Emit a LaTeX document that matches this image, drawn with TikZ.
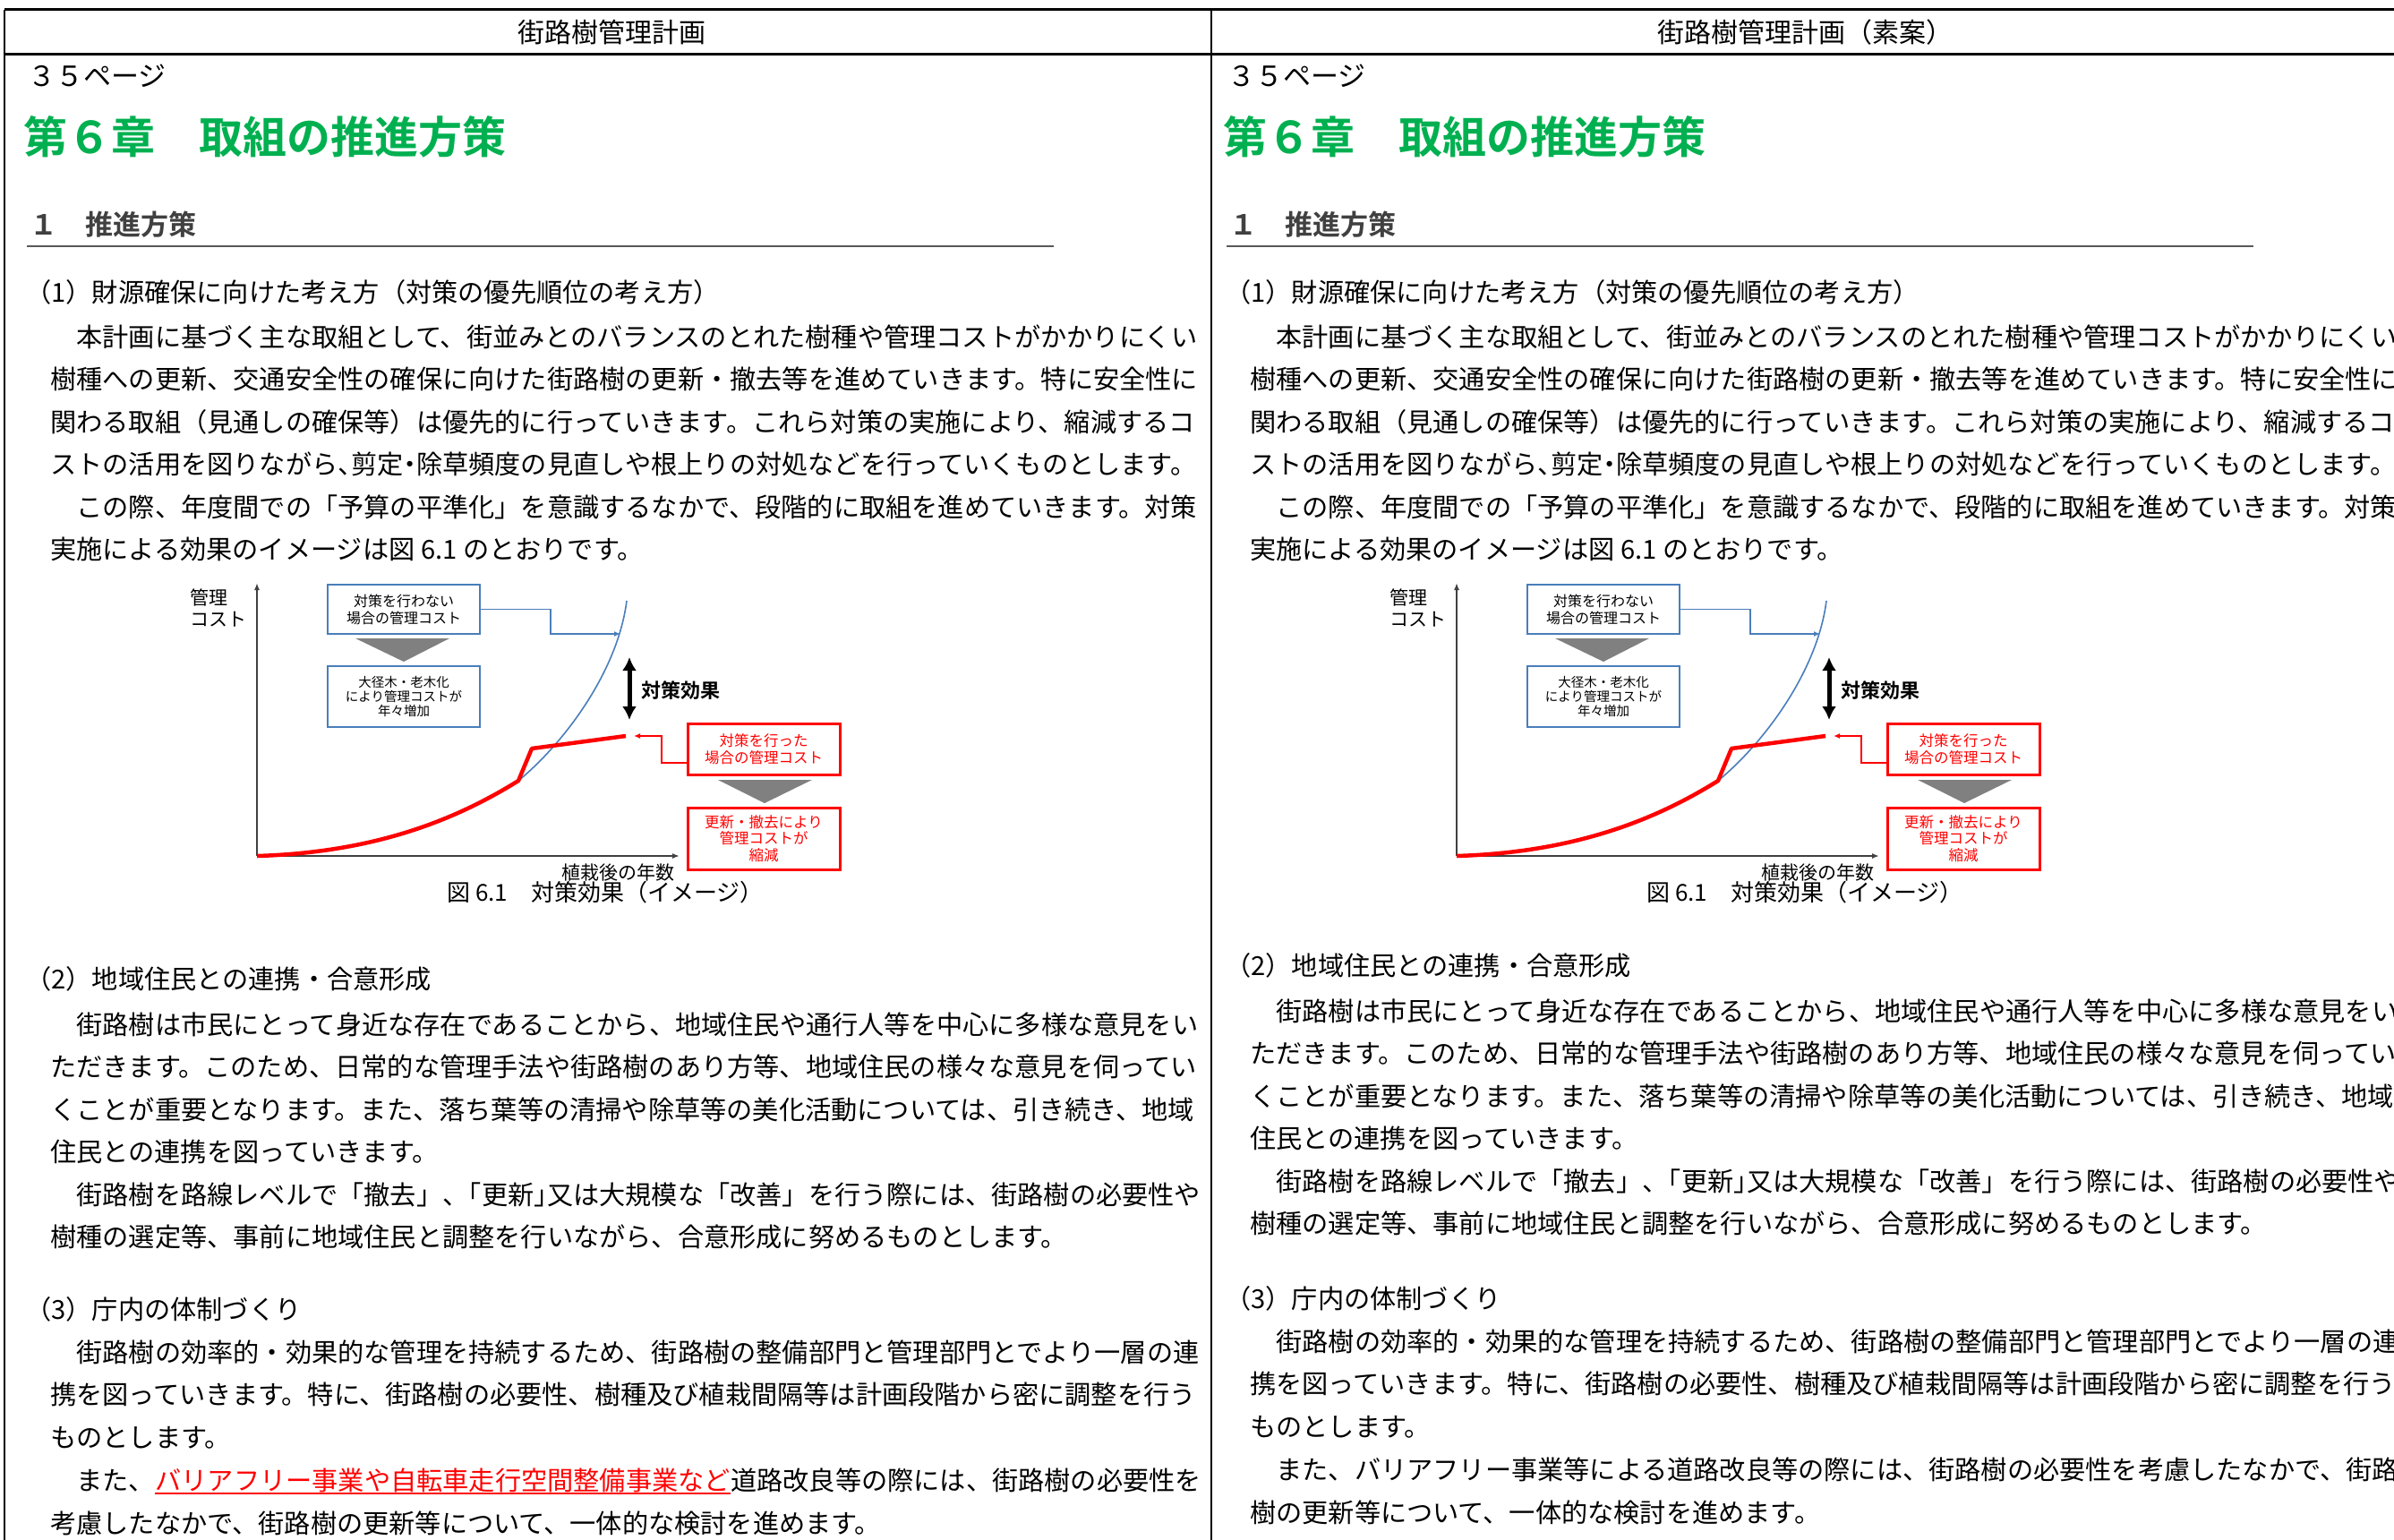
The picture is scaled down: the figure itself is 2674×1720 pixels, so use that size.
\documentclass[tikz,border=0pt]{standalone}
\usepackage{fontspec}
\setmainfont{Noto Sans CJK JP}[BoldFont={Noto Sans CJK JP Bold}]
\usetikzlibrary{arrows.meta,positioning}
\definecolor{TitleGreen}{RGB}{0,176,80}
\definecolor{HeadGray}{RGB}{64,64,64}
\definecolor{RuleGray}{RGB}{89,89,89}
\definecolor{ChartBlue}{RGB}{74,126,187}
\definecolor{WedgeGray}{RGB}{128,128,128}
\tikzset{
  FrameH/.style={line width=3pt},
  FrameV/.style={line width=1.6pt},
  Body/.style={anchor=west, inner sep=0pt, text height=25.7pt, text depth=3.5pt, font=\fontsize{29.2}{35}\selectfont},
  Head/.style={inner sep=0pt, font=\fontsize{30}{36}\selectfont},
  Page/.style={Body, text height=27.3pt, text depth=3.7pt, font=\fontsize{31}{37}\selectfont},
  Title/.style={Body, text=TitleGreen, text height=43.1pt, text depth=5.9pt, font=\fontsize{49}{58}\selectfont\bfseries},
  Section/.style={Body, text=HeadGray, text height=27.3pt, text depth=3.7pt, font=\fontsize{31}{37}\selectfont\bfseries},
  Axis/.style={draw=HeadGray, line width=1.6pt, -{Latex[length=8pt,width=6pt]}},
  AxisText/.style={inner sep=0pt, font=\fontsize{21}{24}\selectfont},
  BlueBox/.style={draw=ChartBlue, line width=2.5pt, minimum width=170pt, align=center, inner sep=0pt, font=\fontsize{16}{19}\selectfont},
  RedBox/.style={draw=red, text=red, line width=3pt, minimum width=170pt, align=center, inner sep=0pt, font=\fontsize{16.5}{19}\selectfont},
  BlueLink/.style={draw=ChartBlue, line width=1.3pt, -{Latex[length=7pt,width=6pt]}},
  RedLink/.style={draw=red, line width=1.5pt, -{Latex[length=7pt,width=6pt]}},
  Growth/.style={draw=ChartBlue, line width=1.6pt},
  Cut/.style={draw=red, line width=4.5pt, line join=round},
  Effect/.style={line width=5pt, {Latex[length=15pt,width=16pt]}-{Latex[length=15pt,width=16pt]}},
  Wedge/.style={fill=WedgeGray},
}
% figure 6.1, drawn once per column
\newcommand{\costchart}[1]{%
  \coordinate (#1-o)      at (287,956);
  \coordinate (#1-ytop)   at (287,651);
  \coordinate (#1-xend)   at (759,956);
  \coordinate (#1-kink)   at (579,872);
  \coordinate (#1-jump)   at (594,836);
  \coordinate (#1-redend) at (699,822);
  \coordinate (#1-top)    at (700,671);
  \coordinate (#1-nobend) at (615,680.5);
  \coordinate (#1-noend)  at (693,708);
  \coordinate (#1-cutbend) at (739,852);
  \coordinate (#1-cutend) at (708,822);
  \coordinate (#1-efftop) at (703,734);
  \coordinate (#1-effbot) at (703,804);
  \draw[Axis] (#1-o) -- (#1-ytop);
  \draw[Axis] (#1-o) -- (#1-xend);
  \node[AxisText, align=left, anchor=north west] (#1-ylab) at (212,658) {管理\\コスト};
  \node[AxisText] (#1-xlab) at (690,975) {植栽後の年数};
  \draw[Growth] (#1-o) .. controls (420,952) and (510,915) .. (#1-kink)
    .. controls (630,830) and (690,750) .. (#1-top);
  \draw[Cut] (#1-o) .. controls (420,952) and (510,915) .. (#1-kink) -- (#1-jump) -- (#1-redend);
  \node[BlueBox, minimum height=55pt] (#1-nobox) at (451,680.5) {対策を行わない\\場合の管理コスト};
  \fill[Wedge] (397,713) -- (502,713) -- (451,739) -- cycle;
  \node[BlueBox, minimum height=68pt, font=\fontsize{14.5}{15.8}\selectfont] (#1-growbox) at (451,778) {大径木・老木化\\により管理コストが\\年々増加};
  \draw[BlueLink] (#1-nobox.east) -- (#1-nobend) |- (#1-noend);
  \draw[Effect] (#1-efftop) -- (#1-effbot);
  \node[AxisText, anchor=west, font=\fontsize{22}{26}\selectfont\bfseries] (#1-effect) at (716,771) {対策効果};
  \node[RedBox, minimum height=57pt] (#1-cutbox) at (853,836.5) {対策を行った\\場合の管理コスト};
  \draw[RedLink] ([yshift=-15.5pt]#1-cutbox.west) -- (#1-cutbend) |- (#1-cutend);
  \fill[Wedge] (802,871) -- (907,871) -- (854,897) -- cycle;
  \node[RedBox, minimum height=69pt, font=\fontsize{16.5}{18.5}\selectfont] (#1-lessbox) at (853,936.5) {更新・撤去により\\管理コストが\\縮減};
  \node[AxisText, anchor=west, font=\fontsize{26}{30}\selectfont] (#1-caption) at (499,997) {図 6.1　対策効果（イメージ）};
}

\begin{document}
\begin{tikzpicture}[x=1pt, y=-1pt]
  \useasboundingbox (0,0) rectangle (2674,1720);
  \fill[white] (0,0) rectangle (2674,1720);
  \clip (0,0) rectangle (2674,1720);

  % table frame
  \draw[FrameH] (5,11) -- (2674,11);
  \draw[FrameH] (5,61) -- (2674,61);
  \draw[FrameV] (5,11) -- (5,1720);
  \draw[FrameV] (1353,11) -- (1353,1720);
  \node[Head] (lhead) at (683,36) {街路樹管理計画};
  \node[Head] (rhead) at (2016,36) {街路樹管理計画（素案）};

  % both columns
  \foreach \side/\dx/\ya/\yb in {L/0/1093/1462, R/1340/1078/1450} {
    \begin{scope}[xshift=\dx pt]
      \node[Page] (\side-page) at (31,85) {３５ページ};
      \node[Title] (\side-title) at (26,153) {第６章　取組の推進方策};
      \node[Section] (\side-sec) at (33,251) {１　推進方策};
      \draw[draw=RuleGray, line width=2.5pt] (30,275) -- (1177,275);

      \node[Body] (\side-h1) at (28,326) {（1）財源確保に向けた考え方（対策の優先順位の考え方）};
      \foreach \t [count=\i] in {
        {　本計画に基づく主な取組として、街並みとのバランスのとれた樹種や管理コストがかかりにくい},
        {樹種への更新、交通安全性の確保に向けた街路樹の更新・撤去等を進めていきます。特に安全性に},
        {関わる取組（見通しの確保等）は優先的に行っていきます。これら対策の実施により、縮減するコ},
        {ストの活用を図りながら、\kern-.5em剪定\kern-.25em・\kern-.25em除草頻度の見直しや根上りの対処などを行っていくものとします。},
        {　この際、年度間での「予算の平準化」を意識するなかで、段階的に取組を進めていきます。対策},
        {実施による効果のイメージは図 6.1 のとおりです。}}
        \node[Body] (\side-a\i) at (56,{376+47.5*(\i-1)}) {\t};

      \costchart{\side}

      \node[Body] (\side-h2) at (28,\ya) {（2）地域住民との連携・合意形成};
      \foreach \t [count=\i] in {
        {　街路樹は市民にとって身近な存在であることから、地域住民や通行人等を中心に多様な意見をい},
        {ただきます。このため、日常的な管理手法や街路樹のあり方等、地域住民の様々な意見を伺ってい},
        {くことが重要となります。また、落ち葉等の清掃や除草等の美化活動については、引き続き、地域},
        {住民との連携を図っていきます。},
        {　街路樹を路線レベルで「撤去」、\kern-.5em「更新」\kern-.5em又は大規模な「改善」を行う際には、街路樹の必要性や},
        {樹種の選定等、事前に地域住民と調整を行いながら、合意形成に努めるものとします。}}
        \node[Body] (\side-b\i) at (56,{\ya+51+47.5*(\i-1)}) {\t};

      \node[Body] (\side-h3) at (28,\yb) {（3）庁内の体制づくり};
      \foreach \t [count=\i] in {
        {　街路樹の効率的・効果的な管理を持続するため、街路樹の整備部門と管理部門とでより一層の連},
        {携を図っていきます。特に、街路樹の必要性、樹種及び植栽間隔等は計画段階から密に調整を行う},
        {ものとします。}}
        \node[Body] (\side-c\i) at (56,{\yb+48+47.8*(\i-1)}) {\t};
    \end{scope}
  }

  % lines that differ between the columns
  \node[Body] (L-c4a) at (56,1653.4) {　また、};
  \node[Body, text=red] (L-c4b) [right=0pt of L-c4a] {バリアフリー事業や自転車走行空間整備事業など};
  \node[Body] (L-c4c) [right=0pt of L-c4b] {道路改良等の際には、街路樹の必要性を};
  \draw[red, line width=2pt] (L-c4b.south west) -- (L-c4b.south east);
  \node[Body] (L-c5) at (56,1701.2) {考慮したなかで、街路樹の更新等について、一体的な検討を進めます。};
  \node[Body] (R-c4) at (1396,1641.4) {　また、バリアフリー事業等による道路改良等の際には、街路樹の必要性を考慮したなかで、街路};
  \node[Body] (R-c5) at (1396,1689.2) {樹の更新等について、一体的な検討を進めます。};
\end{tikzpicture}
\end{document}
